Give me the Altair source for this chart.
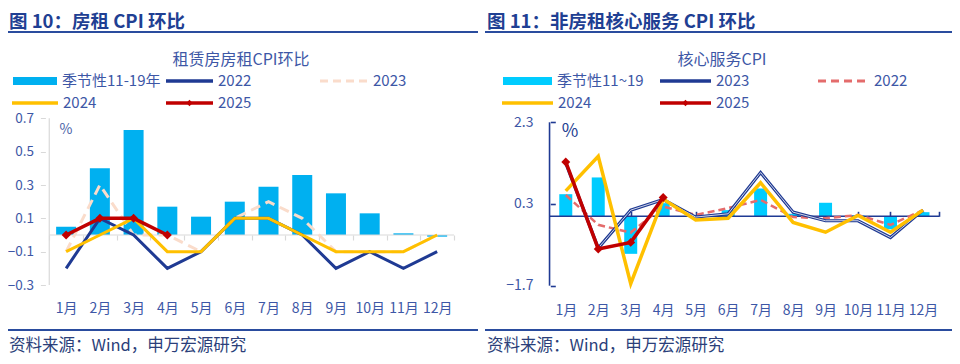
import altair as alt
import pandas as pd

# ---------------- data ----------------
months = list(range(1, 13))
month_labels = [f"{m}月" for m in months]

# 图10 房租CPI环比 (%)
rent_season = [0.05, 0.40, 0.63, 0.17, 0.11, 0.20, 0.29, 0.36, 0.25, 0.13, 0.01, -0.01]
rent_2022 = [-0.2, 0.1, 0.0, -0.2, -0.1, 0.1, 0.1, 0.0, -0.2, -0.1, -0.2, -0.1]
rent_2023 = [-0.1, 0.3, 0.0, 0.0, -0.1, 0.1, 0.2, 0.1, -0.1, -0.1, -0.1, 0.0]
rent_2024 = [-0.1, 0.0, 0.1, -0.1, -0.1, 0.1, 0.1, 0.0, -0.1, -0.1, -0.1, 0.0]
rent_2025 = [0.0, 0.1, 0.1, 0.0]
rent_ticks = [-0.3, -0.1, 0.1, 0.3, 0.5, 0.7]

# 图11 非房租核心服务CPI环比 (%)
core_season = [0.54, 0.95, -0.92, 0.32, 0.02, 0.15, 0.68, 0.06, 0.33, 0.02, -0.32, 0.10]
core_2022 = [0.52, -0.21, -0.40, 0.24, 0.03, 0.20, 0.40, -0.02, -0.05, 0.03, -0.21, 0.15]
core_2023 = [1.30, -0.78, 0.15, 0.41, -0.02, 0.06, 1.07, 0.10, -0.11, -0.11, -0.52, 0.15]
core_2024 = [0.62, 1.47, -1.65, 0.42, -0.09, -0.05, 0.82, -0.15, -0.39, 0.02, -0.39, 0.15]
core_2025 = [1.33, -0.80, -0.64, 0.46]
core_ticks = [-1.7, 0.3, 2.3]

FONT = "Noto Sans CJK SC"
TW, H = 944, 348          # whole drawing
PW = 472                  # one panel
TITLE_C = "#1F3F93"
TEXT_C = "#3D57A6"
NAVY = "#1F3A93"
FRAME_C = "#2A4C9E"


def frame(vals):
    return pd.DataFrame({"month": months[: len(vals)], "v": vals})


one = pd.DataFrame({"a": [0]})


def txt(s, x, y, size, color, weight="normal", align="left"):
    return alt.Chart(pd.DataFrame({"t": [s]})).mark_text(
        font=FONT, fontSize=size, color=color, fontWeight=weight,
        align=align, baseline="middle").encode(
        text="t:N", x=alt.value(x), y=alt.value(y))


def strips(rows, color):
    """horizontal strips in pixel space: rows of (x1, x2, y1, y2)"""
    df = pd.DataFrame(rows, columns=["x1", "x2", "y1", "y2"])
    return alt.Chart(df).mark_rect(color=color, strokeWidth=0).encode(
        x=alt.X("x1:Q", scale=None, axis=None), x2="x2:Q",
        y=alt.Y("y1:Q", scale=None, axis=None), y2="y2:Q")


def dashed(x1, x2, y, color, width, dash):
    return alt.Chart(one).mark_rule(color=color, strokeWidth=width, strokeDash=dash).encode(
        x=alt.value(x1), x2=alt.value(x2), y=alt.value(y))


def diamond(x, y, color, size):
    return alt.Chart(one).mark_point(shape="diamond", filled=True, color=color,
                                     size=size, opacity=1).encode(
        x=alt.value(x), y=alt.value(y))


def legend(entries, y_rows, ox):
    layers = []
    for e in entries:
        y = y_rows[e["row"]]
        x1, x2 = e["x1"] + ox, e["x2"] + ox
        if e["kind"] == "bar":
            layers.append(strips([(x1, x2, y - 4, y + 4)], e["color"]))
        elif e["kind"] == "dash":
            layers.append(dashed(x1, x2, y, e["color"], 3, [8, 5]))
        else:
            layers.append(strips([(x1, x2, y - 1.75, y + 1.75)], e["color"]))
            if e["kind"] == "marker":
                layers.append(diamond((x1 + x2) / 2, y, e["color"], 40))
        layers.append(txt(e["label"], x2 + 5, y, 15, TEXT_C))
    return layers


def panel(cfg):
    ox = cfg["ox"]
    xs = alt.Scale(domain=cfg["xdom"], nice=False, zero=False)
    ys = alt.Scale(domain=cfg["ydom"], nice=False, zero=False)

    def X(axis=None):
        return alt.X("month:Q", scale=xs, axis=axis, title=None)

    def Y(axis=None):
        return alt.Y("v:Q", scale=ys, axis=axis, title=None)

    x_label_axis = alt.Axis(values=months, labelExpr="datum.value + '月'", orient="bottom",
                            ticks=False, domain=False, grid=False, labelPadding=0,
                            offset=cfg["xlab_off"], labelFont=FONT, labelFontSize=14,
                            labelColor=TEXT_C, labelBaseline="top")
    y_label_axis = alt.Axis(values=cfg["yticks"], format=".1f", orient="left",
                            domain=False, grid=False, offset=cfg["ylab_off"],
                            ticks=cfg["yticks_on"], tickSize=5, tickColor=cfg["axis_c"],
                            labelPadding=cfg["ylab_pad"], labelFont=FONT,
                            labelFontSize=cfg["ylab_size"], labelColor=TEXT_C)

    layers = []
    # bars (carry main axes)
    layers.append(alt.Chart(frame(cfg["season"])).mark_bar(
        size=cfg["bar_w"], color=cfg["bar_c"]).encode(
        x=X(x_label_axis), y=Y(y_label_axis), y2=alt.datum(0)))

    # axis lines (in data space)
    axis_df = pd.DataFrame({"x": [0.5], "x2": [12.5], "y": [0.0],
                            "ya": [cfg["yticks"][0]], "yb": [cfg["yticks"][-1]]})
    layers.append(alt.Chart(axis_df).mark_rule(color=cfg["axis_c"], strokeWidth=cfg["axis_w"]).encode(
        x=alt.X("x:Q", scale=xs, axis=None), x2="x2:Q",
        y=alt.Y("y:Q", scale=ys, axis=None)))
    layers.append(alt.Chart(axis_df).mark_rule(color=cfg["axis_c"], strokeWidth=cfg["axis_w"]).encode(
        x=alt.X("x:Q", scale=xs, axis=None),
        y=alt.Y("ya:Q", scale=ys, axis=None), y2="yb:Q"))

    # tick axes on the zero line / y axis line
    tick_axis = alt.Axis(values=cfg["xtick_vals"], orient=cfg["xtick_orient"], labels=False,
                         domain=False, grid=False, tickSize=5, tickColor=cfg["axis_c"],
                         tickWidth=cfg["axis_w"], offset=cfg["xtick_off"])
    ytick_axis = None
    if cfg.get("ytick_right"):
        ytick_axis = alt.Axis(values=cfg["yticks"], orient="right", labels=False,
                              domain=False, grid=False, tickSize=5, tickColor=cfg["axis_c"],
                              tickWidth=cfg["axis_w"], offset=cfg["ytick_off"])
    layers.append(alt.Chart(frame(cfg["season"])).mark_point(opacity=0).encode(
        x=X(tick_axis), y=Y(ytick_axis)))

    # lines
    for s in cfg["lines"]:
        kw = dict(color=s["color"], strokeWidth=s["w"])
        if s.get("dash"):
            kw["strokeDash"] = s["dash"]
        layers.append(alt.Chart(frame(s["vals"])).mark_line(**kw).encode(x=X(), y=Y()))
        if s.get("core"):
            layers.append(alt.Chart(frame(s["vals"])).mark_line(
                color="white", strokeWidth=s["core"]).encode(x=X(), y=Y()))
        if s.get("marker"):
            layers.append(alt.Chart(frame(s["vals"])).mark_point(
                shape="diamond", filled=True, opacity=1, color=s["color"], size=80).encode(
                x=X(), y=Y()))

    # decorations
    layers.append(txt(cfg["title"], ox + cfg["title_x"], 14, 18.5, TITLE_C, "bold"))
    layers.append(txt(cfg["subtitle"], ox + cfg["subtitle_x"], 52, 16, TEXT_C, align="center"))
    layers += legend(cfg["legend"], [73, 95], ox)
    layers.append(txt("%", ox + cfg["pct"][0], cfg["pct"][1], cfg["pct"][2], cfg["pct"][3],
                      align="center"))
    layers.append(txt("资料来源：Wind，申万宏源研究", ox + cfg["title_x"], 338, 16.5, "#2B3F7A"))

    return alt.layer(*layers).resolve_axis(x="independent", y="independent")


left = panel(dict(
    ox=0,
    xdom=[-0.5753, -0.5753 + TW / 34.09], ydom=[-0.726, 1.362],
    yticks=rent_ticks, yticks_on=True, ylab_off=-37.4, ylab_pad=7, ylab_size=13.5,
    xlab_off=-55, axis_c="#D9D9D9", axis_w=1.2,
    xtick_vals=[m + 0.5 for m in range(0, 13)], xtick_orient="bottom", xtick_off=-121,
    season=rent_season, bar_w=20, bar_c="#00B0F0",
    lines=[
        dict(vals=rent_2023, color="#FADCCB", w=3, dash=[10, 6]),
        dict(vals=rent_2022, color=NAVY, w=3),
        dict(vals=rent_2024, color="#FFC000", w=3),
        dict(vals=rent_2025, color="#C00000", w=3.5, marker=True),
    ],
    title="图 10：房租 CPI 环比", title_x=1,
    subtitle="租赁房房租CPI环比", subtitle_x=233,
    legend=[
        dict(kind="bar", x1=5, x2=49, row=0, color="#00B0F0", label="季节性11-19年"),
        dict(kind="line", x1=158, x2=205, row=0, color=NAVY, label="2022"),
        dict(kind="dash", x1=312, x2=360, row=0, color="#FADCCB", label="2023"),
        dict(kind="line", x1=4, x2=50, row=1, color="#FFC000", label="2024"),
        dict(kind="marker", x1=158, x2=205, row=1, color="#C00000", label="2025"),
    ],
    pct=(58, 122, 14, "#4A63A8"),
))

right = panel(dict(
    ox=PW,
    xdom=[12.740 - TW / 32.82, 12.740], ydom=[-3.421, 5.098],
    yticks=core_ticks, yticks_on=False, ylab_off=-(PW + 57), ylab_pad=4, ylab_size=14,
    xlab_off=-53, axis_c=NAVY, axis_w=1.6,
    xtick_vals=months + [12.5], xtick_orient="top", xtick_off=-208.3,
    ytick_right=True, ytick_off=-401.7,
    season=core_season, bar_w=13, bar_c="#00CCFF",
    lines=[
        dict(vals=core_2022, color="#E46C6C", w=2.5, dash=[7, 4]),
        dict(vals=core_2023, color=NAVY, w=3.2, core=0.8),
        dict(vals=core_2024, color="#FFC000", w=3.5),
        dict(vals=core_2025, color="#C00000", w=3.5, marker=True),
    ],
    title="图 11：非房租核心服务 CPI 环比", title_x=7,
    subtitle="核心服务CPI", subtitle_x=242,
    legend=[
        dict(kind="bar", x1=23, x2=72, row=0, color="#00CCFF", label="季节性11~19"),
        dict(kind="line", x1=180, x2=231, row=0, color=NAVY, label="2023"),
        dict(kind="dash", x1=338, x2=389, row=0, color="#E46C6C", label="2022"),
        dict(kind="line", x1=22, x2=73, row=1, color="#FFC000", label="2024"),
        dict(kind="marker", x1=180, x2=231, row=1, color="#C00000", label="2025"),
    ],
    pct=(90, 124, 18, TITLE_C),
))

# frame lines under the titles and above the sources (pixel space)
frame_lines = strips([(0, 470, 23, 25), (477, TW, 23, 25),
                      (0, 470, 321, 323), (477, TW, 321, 323)], FRAME_C)

chart = alt.layer(left, right, frame_lines).resolve_scale(
    x="independent", y="independent").resolve_axis(
    x="independent", y="independent").properties(
    width=TW, height=H, padding=0,
    autosize=alt.AutoSizeParams(type="none")).configure(
    font=FONT, view=alt.ViewConfig(stroke=None),
    axis=alt.AxisConfig(domain=False, grid=False))

chart.save("out.html", embed_options={"renderer": "svg", "actions": False})
